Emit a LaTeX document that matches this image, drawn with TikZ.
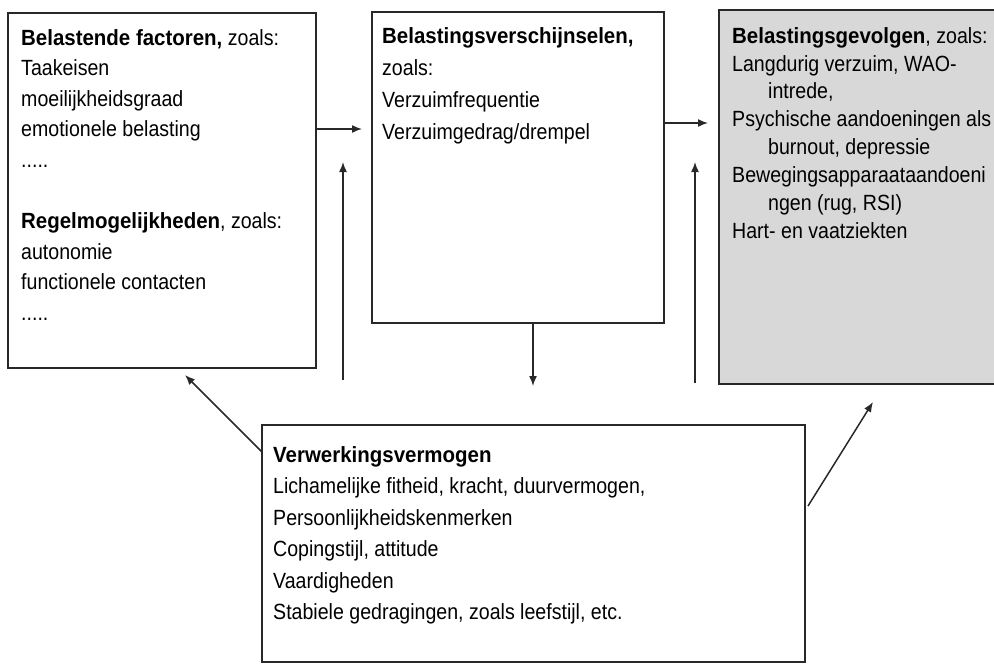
\documentclass[tikz,border=0pt]{standalone}
\usepackage{fontspec}
\setmainfont{Liberation Sans}[FakeStretch=0.89, BoldFeatures={FakeStretch=0.93}]
\usetikzlibrary{arrows.meta}
\definecolor{boxgray}{RGB}{216,216,216}
\definecolor{ink}{RGB}{40,40,40}
\begin{document}
\begin{tikzpicture}[x=1pt,y=-1pt,
  box/.style={draw=ink, line width=1.8pt, inner sep=0pt, outer sep=0pt, anchor=north west},
  txt/.style={anchor=north west, inner sep=0pt, align=left, text=black},
  arr/.style={draw=ink, line width=1.5pt, -{Latex[length=10pt,width=8pt]}}
]
\useasboundingbox (0,0) rectangle (994,664);

% boxes
\node[box, minimum width=308pt, minimum height=355pt] (b1) at (8,13) {};
\node[box, minimum width=292pt, minimum height=311pt] (b2) at (372,12) {};
\node[box, fill=boxgray, minimum width=279pt, minimum height=374pt] (b3) at (719,10) {};
\node[box, minimum width=543pt, minimum height=237pt] (b4) at (262,425) {};

% texts (first baseline minus ~16pt)
\node[txt, font=\fontsize{22}{30.6}\selectfont] (t1) at (21,29) {%
\textbf{Belastende factoren,} zoals:\\
Taakeisen\\
moeilijkheidsgraad\\
emotionele belasting\\
.....\\[30.6pt]
\textbf{Regelmogelijkheden}, zoals:\\
autonomie\\
functionele contacten\\
.....};

\node[txt, font=\fontsize{22}{32}\selectfont] (t2) at (382,27) {%
\textbf{Belastingsverschijnselen,}\\
zoals:\\
Verzuimfrequentie\\
Verzuimgedrag/drempel};

\node[txt, font=\fontsize{22}{27.9}\selectfont] (t3) at (732,27) {%
\textbf{Belastingsgevolgen}, zoals:\\
Langdurig verzuim, WAO-\\
\hspace*{36pt}intrede,\\
Psychische aandoeningen als\\
\hspace*{36pt}burnout, depressie\\
Bewegingsapparaataandoeni\\
\hspace*{36pt}ngen (rug, RSI)\\
Hart- en vaatziekten};

\node[txt, font=\fontsize{22}{31.5}\selectfont] (t4) at (273,446) {%
\textbf{Verwerkingsvermogen}\\
Lichamelijke fitheid, kracht, duurvermogen,\\
Persoonlijkheidskenmerken\\
Copingstijl, attitude\\
Vaardigheden\\
Stabiele gedragingen, zoals leefstijl, etc.};

% free ends
\coordinate (e12) at (362,129);
\coordinate (e23) at (708,123);
\coordinate (u1s) at (343,380);
\coordinate (u1e) at (343,162);
\coordinate (u2s) at (695,383);
\coordinate (u2e) at (695,162);
\coordinate (dn) at (533,386);
\coordinate (dl) at (185,375);
\coordinate (drs) at (808,506);
\coordinate (dre) at (873,402);
\coordinate (b4w) at (262,452);

% connectors
\draw[arr] (b1.east |- e12) -- (e12);
\draw[arr] (b2.east |- e23) -- (e23);
\draw[arr] (u1s) -- (u1e);
\draw[arr] (u2s) -- (u2e);
\draw[arr] (b2.south -| dn) -- (dn);
\draw[arr] (b4w) -- (dl);
\draw[arr] (drs) -- (dre);
\end{tikzpicture}
\end{document}
